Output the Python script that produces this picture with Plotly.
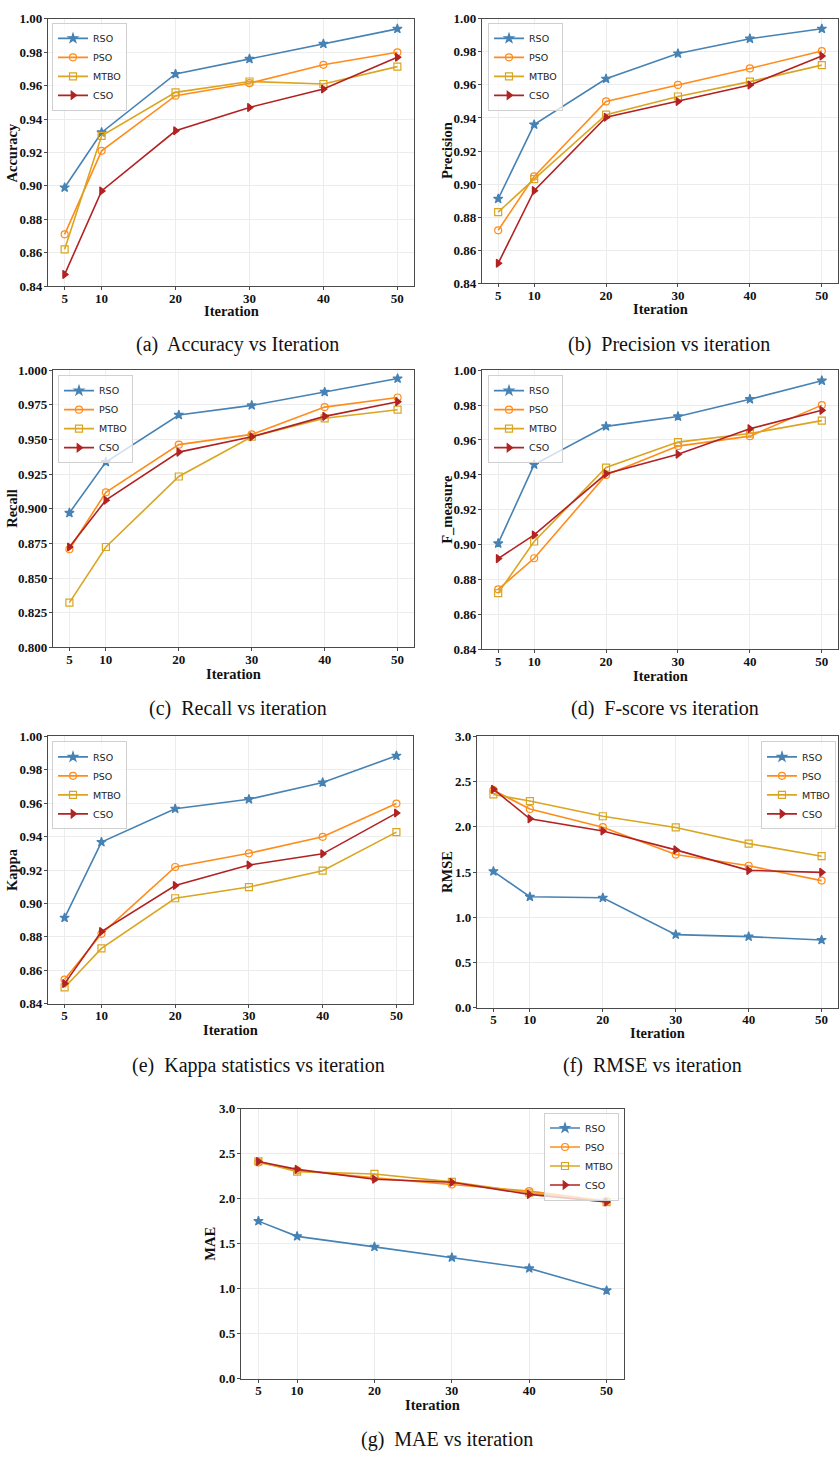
import plotly.graph_objects as go

iterations = [5, 10, 20, 30, 40, 50]
algorithms = ["RSO", "PSO", "MTBO", "CSO"]

accuracy_rso = [0.899, 0.932, 0.967, 0.976, 0.985, 0.994]
accuracy_pso = [0.871, 0.921, 0.954, 0.9615, 0.9725, 0.980]
accuracy_mtbo = [0.862, 0.930, 0.956, 0.9625, 0.961, 0.9714]
accuracy_cso = [0.847, 0.897, 0.933, 0.947, 0.958, 0.977]

precision_rso = [0.891, 0.936, 0.9637, 0.979, 0.988, 0.994]
precision_pso = [0.872, 0.9046, 0.950, 0.960, 0.970, 0.9805]
precision_mtbo = [0.883, 0.903, 0.942, 0.953, 0.962, 0.972]
precision_cso = [0.852, 0.896, 0.9404, 0.950, 0.960, 0.9775]

recall_rso = [0.897, 0.9337, 0.9677, 0.9746, 0.9843, 0.994]
recall_pso = [0.8708, 0.9119, 0.9463, 0.9537, 0.9734, 0.9803]
recall_mtbo = [0.8323, 0.8724, 0.9233, 0.952, 0.9653, 0.9715]
recall_cso = [0.8724, 0.9062, 0.9409, 0.952, 0.9667, 0.9772]

fmeasure_rso = [0.9007, 0.9459, 0.9678, 0.9735, 0.9834, 0.994]
fmeasure_pso = [0.8744, 0.8922, 0.940, 0.9565, 0.9622, 0.980]
fmeasure_mtbo = [0.8722, 0.9018, 0.9442, 0.9588, 0.9637, 0.9711]
fmeasure_cso = [0.892, 0.9056, 0.9406, 0.9518, 0.9665, 0.977]

kappa_rso = [0.8914, 0.9367, 0.9567, 0.9624, 0.9724, 0.9884]
kappa_pso = [0.8544, 0.8818, 0.9218, 0.930, 0.9399, 0.9598]
kappa_mtbo = [0.8497, 0.8731, 0.9031, 0.9098, 0.9196, 0.9427]
kappa_cso = [0.852, 0.8832, 0.9107, 0.923, 0.9297, 0.9541]

rmse_rso = [1.507, 1.226, 1.215, 0.807, 0.785, 0.748]
rmse_pso = [2.405, 2.197, 1.996, 1.693, 1.569, 1.405]
rmse_mtbo = [2.358, 2.285, 2.117, 1.993, 1.814, 1.675]
rmse_cso = [2.416, 2.088, 1.953, 1.745, 1.518, 1.496]

mae_rso = [1.75, 1.581, 1.464, 1.346, 1.225, 0.98]
mae_pso = [2.402, 2.314, 2.23, 2.157, 2.083, 1.973]
mae_mtbo = [2.413, 2.30, 2.274, 2.186, 2.065, 1.962]
mae_cso = [2.413, 2.325, 2.215, 2.182, 2.047, 1.962]

y_titles = ["Accuracy", "Precision", "Recall", "F_measure", "Kappa", "RMSE", "MAE"]
captions = ["(a)  Accuracy vs Iteration", "(b)  Precision vs iteration",
            "(c)  Recall vs iteration", "(d)  F-score vs iteration",
            "(e)  Kappa statistics vs iteration", "(f)  RMSE vs iteration",
            "(g)  MAE vs iteration"]

panel_data = [
    [accuracy_rso, accuracy_pso, accuracy_mtbo, accuracy_cso],
    [precision_rso, precision_pso, precision_mtbo, precision_cso],
    [recall_rso, recall_pso, recall_mtbo, recall_cso],
    [fmeasure_rso, fmeasure_pso, fmeasure_mtbo, fmeasure_cso],
    [kappa_rso, kappa_pso, kappa_mtbo, kappa_cso],
    [rmse_rso, rmse_pso, rmse_mtbo, rmse_cso],
    [mae_rso, mae_pso, mae_mtbo, mae_cso],
]

# ---- layout / style (pixels) ----
W, H = 840, 1458
boxes = [
    (48, 414, 12, 282),
    (482, 838, 12, 279),
    (53, 414, 367, 647),
    (482, 838, 367, 649),
    (48, 413, 737, 1007),
    (477, 838, 737, 1011),
    (241, 624, 1113, 1386),
]
y_ranges = [(0.84, 1.0), (0.84, 1.0), (0.8, 1.0), (0.84, 1.0), (0.84, 1.0), (0.0, 3.0), (0.0, 3.0)]
y_dticks = [0.02, 0.02, 0.025, 0.02, 0.02, 0.5, 0.5]
y_formats = [".2f", ".2f", ".3f", ".2f", ".2f", ".1f", ".1f"]
ytitle_x = [12, 447, 12, 447, 12, 447, 210]
xtitle_y = [307, 305, 674, 676, 1034, 1037, 1413]
caption_pos = [(237, 341), (669, 341), (238, 709), (665, 709), (258, 1069), (652, 1069), (447, 1447)]
legend_pos = [(52, 16, "left"), (488, 16, "left"), (58, 372, "left"), (488, 372, "left"),
              (52, 742, "left"), (836, 742, "right"), (619, 1117, "right")]

colors = ["#4682B4", "#FF8C1A", "#DAA520", "#B22222"]
symbols = ["star", "circle-open", "square-open", "triangle-right"]
msizes = [7, 7, 7, 7]
frame_col = "#4a4a4a"
grid_col = "#ececec"

serif = "Liberation Serif"
tick_font = dict(family=serif, size=13, color="#111111", weight=700)
title_font = dict(family=serif, size=14.5, color="#111111", weight=700)

fig = go.Figure()
layout = dict(width=W, height=H, margin=dict(l=0, r=0, t=0, b=0),
              paper_bgcolor="white", plot_bgcolor="white", annotations=[])

for i in range(7):
    n = i + 1
    sfx = "" if n == 1 else str(n)
    x0, x1, t, b = boxes[i]
    for k, alg in enumerate(algorithms):
        fig.add_trace(go.Scatter(
            x=iterations, y=panel_data[i][k], name=alg,
            mode="lines+markers",
            line=dict(color=colors[k], width=1.6),
            marker=dict(symbol=symbols[k], size=msizes[k], color=colors[k],
                        line=dict(color=colors[k], width=1.2)),
            xaxis="x" + sfx, yaxis="y" + sfx, legend="legend" + sfx,
        ))
    layout["xaxis" + sfx] = dict(
        domain=[x0 / W, x1 / W], anchor="y" + sfx, range=[2.75, 52.25],
        tickvals=iterations, showline=True, mirror=True, linecolor=frame_col, linewidth=1.2,
        ticks="outside", ticklen=3, tickcolor=frame_col, showgrid=True, gridcolor=grid_col,
        gridwidth=0.8, zeroline=False, tickfont=tick_font, ticklabelstandoff=-3)
    y0v, y1v = y_ranges[i]
    layout["yaxis" + sfx] = dict(
        domain=[1 - b / H, 1 - t / H], anchor="x" + sfx, range=[y0v, y1v],
        tick0=y0v, dtick=y_dticks[i], tickformat=y_formats[i],
        showline=True, mirror=True, linecolor=frame_col, linewidth=1.2,
        ticks="outside", ticklen=3, tickcolor=frame_col, showgrid=True, gridcolor=grid_col,
        gridwidth=0.8, zeroline=False, tickfont=tick_font, ticklabelstandoff=-1)
    lx, ly, lxa = legend_pos[i]
    layout["legend" + sfx] = dict(
        x=lx / W, y=1 - ly / H, xanchor=lxa, yanchor="top", xref="paper", yref="paper",
        bgcolor="rgba(255,255,255,0.75)", bordercolor="#d0d0d0", borderwidth=1,
        font=dict(family="DejaVu Sans", size=9.5, color="#222222"),
        itemwidth=30, tracegroupgap=0)
    layout["annotations"].append(dict(
        text=y_titles[i], x=ytitle_x[i] / W, y=1 - ((t + b) / 2) / H, xref="paper", yref="paper",
        textangle=-90, showarrow=False, font=title_font, xanchor="center", yanchor="middle"))
    layout["annotations"].append(dict(
        text="Iteration", x=((x0 + x1) / 2) / W, y=1 - xtitle_y[i] / H, xref="paper", yref="paper",
        showarrow=False, font=title_font, xanchor="center", yanchor="middle"))
    cx, cy = caption_pos[i]
    layout["annotations"].append(dict(
        text=captions[i], x=cx / W, y=1 - cy / H, xref="paper", yref="paper",
        showarrow=False, font=dict(family=serif, size=20, color="#111111"),
        xanchor="center", yanchor="middle"))

fig.update_layout(**layout)
fig.write_html("out.html")
